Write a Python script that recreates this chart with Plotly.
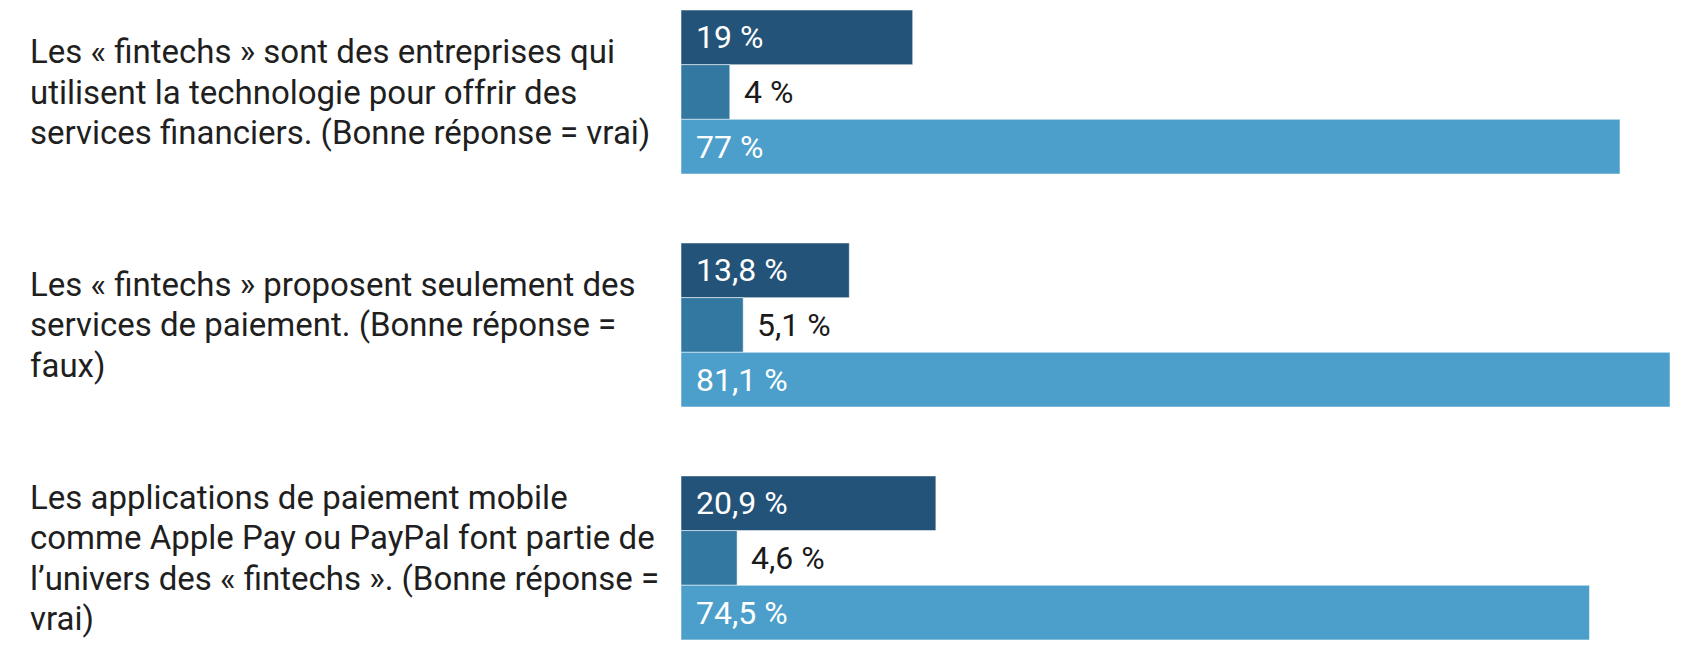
import plotly.graph_objects as go

questions = [
    "Les « fintechs » sont des entreprises qui<br>utilisent la technologie pour offrir des<br>services financiers. (Bonne réponse = vrai)",
    "Les « fintechs » proposent seulement des<br>services de paiement. (Bonne réponse =<br>faux)",
    "Les applications de paiement mobile<br>comme Apple Pay ou PayPal font partie de<br>l’univers des « fintechs ». (Bonne réponse =<br>vrai)",
]
series_names = ["Mauvaise réponse", "Ne sait pas", "Bonne réponse"]
mauvaise = [19, 13.8, 20.9]
ne_sait_pas = [4, 5.1, 4.6]
bonne = [77, 81.1, 74.5]
colors = ["#245379", "#3278a0", "#4b9fca"]

W, H = 1704, 656
L, R = 681, 34
BARGAP = 0.296
XMAX = 81.1
FONT = "Roboto"
LINE_H = 40.5

def fmt(v):
    return f"{v:g}".replace(".", ",") + "\u00a0%"

fig = go.Figure()
ycats = list(range(len(questions)))
all_series = [mauvaise, ne_sait_pas, bonne]
for name, vals, col in zip(series_names, all_series, colors):
    fig.add_trace(go.Bar(
        y=ycats, x=vals, orientation="h", name=name,
        marker=dict(color=col, line=dict(color="rgba(255,255,255,0.5)", width=1)),
        hoverinfo="x+name",
    ))

annotations = []
n = len(all_series)
bw = (1 - BARGAP) / n
plot_w = W - L - R
for j, vals in enumerate(all_series):
    off = -(1 - BARGAP) / 2 + bw * (j + 0.5)
    for i, v in enumerate(vals):
        inside = v > 10
        annotations.append(dict(
            x=0 if inside else v, y=i + off, xref="x", yref="y",
            text=fmt(v), showarrow=False, xanchor="left", yanchor="middle",
            xshift=13 if inside else 12,
            font=dict(family=FONT, size=32, color="white" if inside else "#1a1a1a"),
        ))
for i, q in enumerate(questions):
    lines = q.split("<br>")
    m = len(lines)
    for k, line in enumerate(lines):
        annotations.append(dict(
            x=(28 - L) / plot_w, y=i, xref="paper", yref="y", text=line,
            showarrow=False, xanchor="left", yanchor="middle", align="left",
            yshift=-(k - (m - 1) / 2) * LINE_H,
            font=dict(family=FONT, size=33, color="#1f1f1f"),
        ))

fig.update_layout(
    width=W, height=H, barmode="group", bargap=BARGAP, bargroupgap=0,
    margin=dict(l=L, r=R, t=0, b=0), paper_bgcolor="white", plot_bgcolor="white",
    showlegend=False, annotations=annotations,
    xaxis=dict(range=[0, XMAX], visible=False, fixedrange=True),
    yaxis=dict(range=[2.421, -0.395], visible=False, fixedrange=True),
    font=dict(family=FONT),
)
fig.write_html("out.html")
